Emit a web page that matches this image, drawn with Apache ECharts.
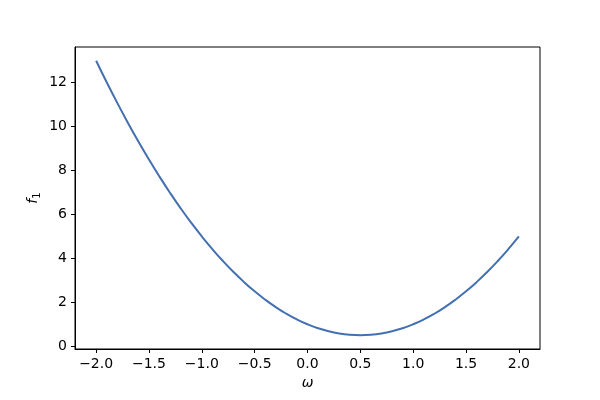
<!DOCTYPE html>
<html>
<head>
<meta charset="utf-8">
<script src="https://cdn.jsdelivr.net/npm/echarts@6/dist/echarts.min.js"></script>
<style>
  html, body { margin: 0; padding: 0; background: #fff; }
  #chart { width: 600px; height: 400px; }
</style>
</head>
<body>
<div id="chart"></div>
<script>
// omega samples and f1 values
var omega = [-2.0, -1.9, -1.8, -1.7, -1.6, -1.5, -1.4, -1.3, -1.2, -1.1,
  -1.0, -0.9, -0.8, -0.7, -0.6, -0.5, -0.4, -0.3, -0.2, -0.1,
  0.0, 0.1, 0.2, 0.3, 0.4, 0.5, 0.6, 0.7, 0.8, 0.9,
  1.0, 1.1, 1.2, 1.3, 1.4, 1.5, 1.6, 1.7, 1.8, 1.9, 2.0];
var f1 = [13.0, 12.02, 11.08, 10.18, 9.32, 8.5, 7.72, 6.98, 6.28, 5.62,
  5.0, 4.42, 3.88, 3.38, 2.92, 2.5, 2.12, 1.78, 1.48, 1.22,
  1.0, 0.82, 0.68, 0.58, 0.52, 0.5, 0.52, 0.58, 0.68, 0.82,
  1.0, 1.22, 1.48, 1.78, 2.12, 2.5, 2.92, 3.38, 3.88, 4.42, 5.0];
var xTicks = [-2.0, -1.5, -1.0, -0.5, 0.0, 0.5, 1.0, 1.5, 2.0];
var yTicks = [0, 2, 4, 6, 8, 10, 12];

var points = [];
for (var i = 0; i < omega.length; i++) {
  points.push([omega[i], f1[i]]);
}

var chart = echarts.init(document.getElementById('chart'));
var font = 'DejaVu Sans';

var option = {
  animation: false,
  grid: {
    left: 75,
    right: 60,
    top: 47,
    bottom: 51,
    show: true,
    borderColor: '#000',
    borderWidth: 1,
    backgroundColor: 'transparent'
  },
  xAxis: {
    type: 'value',
    min: -2.2,
    max: 2.2,
    name: 'ω',
    nameLocation: 'middle',
    nameGap: 26,
    nameTextStyle: { fontFamily: font, fontSize: 14, fontStyle: 'italic', color: '#000' },
    axisLine: { show: true, onZero: false, lineStyle: { color: '#000', width: 1 } },
    axisTick: { show: true, length: 4, customValues: xTicks, lineStyle: { color: '#000' } },
    axisLabel: {
      customValues: xTicks,
      margin: 8,
      fontFamily: font,
      fontSize: 14,
      color: '#000',
      formatter: function(v) {
        return (v < 0 ? '\u2212' : '') + Math.abs(v).toFixed(1);
      }
    },
    splitLine: { show: false }
  },
  yAxis: {
    type: 'value',
    min: -0.125,
    max: 13.625,
    name: '{i|f}{s|1}',
    nameLocation: 'middle',
    nameGap: 33,
    nameMoveOverlap: false,
    nameRotate: 90,
    nameTextStyle: {
      rich: {
        i: { fontFamily: font, fontSize: 14, fontStyle: 'italic', color: '#000' },
        s: { fontFamily: font, fontSize: 10, color: '#000', padding: [8, 0, 0, 0] }
      }
    },
    axisLine: { show: true, onZero: false, lineStyle: { color: '#000', width: 1 } },
    axisTick: { show: true, length: 4, customValues: yTicks, lineStyle: { color: '#000' } },
    axisLabel: {
      customValues: yTicks,
      margin: 8,
      fontFamily: font,
      fontSize: 14,
      color: '#000'
    },
    splitLine: { show: false }
  },
  series: [{
    type: 'line',
    data: points,
    smooth: true,
    showSymbol: false,
    lineStyle: { color: '#4470b0', width: 2 }
  }]
};
chart.setOption(option);
</script>
</body>
</html>
